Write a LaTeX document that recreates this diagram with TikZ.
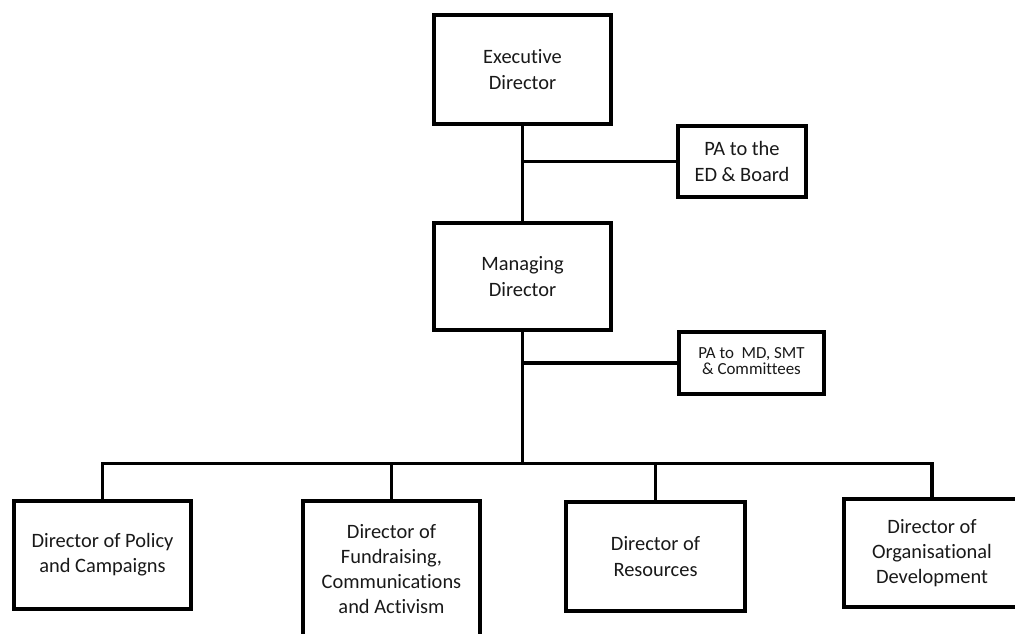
\documentclass[tikz,border=0pt]{standalone}
\usepackage{fontspec}
\setmainfont{Carlito}[Ligatures={NoCommon}]
\begin{document}
\begin{tikzpicture}[x=1bp,y=-1bp,
  box/.style={draw=black, line width=3.6bp, fill=white, align=center, inner sep=2bp,
    font=\fontsize{20.5}{25.3}\selectfont, text=black!90},
  smallbox/.style={box, font=\fontsize{17}{22}\selectfont},
  conn/.style={draw=black, line width=3.6bp}]
\useasboundingbox (0,0) rectangle (1015,634);
\node[box, minimum width=177bp, minimum height=109bp] (ED) at (522.5,69.5) {Executive\\Director};
\node[box, minimum width=128bp, minimum height=71bp] (PA1) at (742,161.5) {PA to the\\ED \& Board};
\node[box, minimum width=177bp, minimum height=107bp] (MD) at (522.5,276.5) {Managing\\Director};
\node[smallbox, minimum width=145bp, minimum height=62bp] (PA2) at (751.5,363) {\raisebox{4bp}{\shortstack{PA to\ \ MD, SMT\\[-1bp]\& Committees}}};
\node[box, minimum width=177bp, minimum height=108bp] (D1) at (102.5,555) {Director of Policy\\and Campaigns};
\node[box, minimum width=177bp, minimum height=136bp] (D2) at (391.5,569) {Director of\\Fundraising,\\Communications\\and Activism};
\node[box, minimum width=179bp, minimum height=109bp] (D3) at (655.5,556.5) {Director of\\Resources};
\node[box, minimum width=176bp, minimum height=108bp] (D4) at (932,553) {Director of\\Organisational\\Development};
\coordinate (bus) at (522.5,463.5);
\draw[conn] (ED.south) -- (MD.north);
\draw[conn] (ED.south |- PA1.west) -- (PA1.west);
\draw[conn] (MD.south) -- (bus);
\draw[conn] (MD.south |- PA2.west) -- (PA2.west);
\draw[conn] (D1.north) |- (bus) -| (D4.north);
\draw[conn] (D2.north) -- (D2.north |- bus);
\draw[conn] (D3.north) -- (D3.north |- bus);
\end{tikzpicture}
\end{document}
